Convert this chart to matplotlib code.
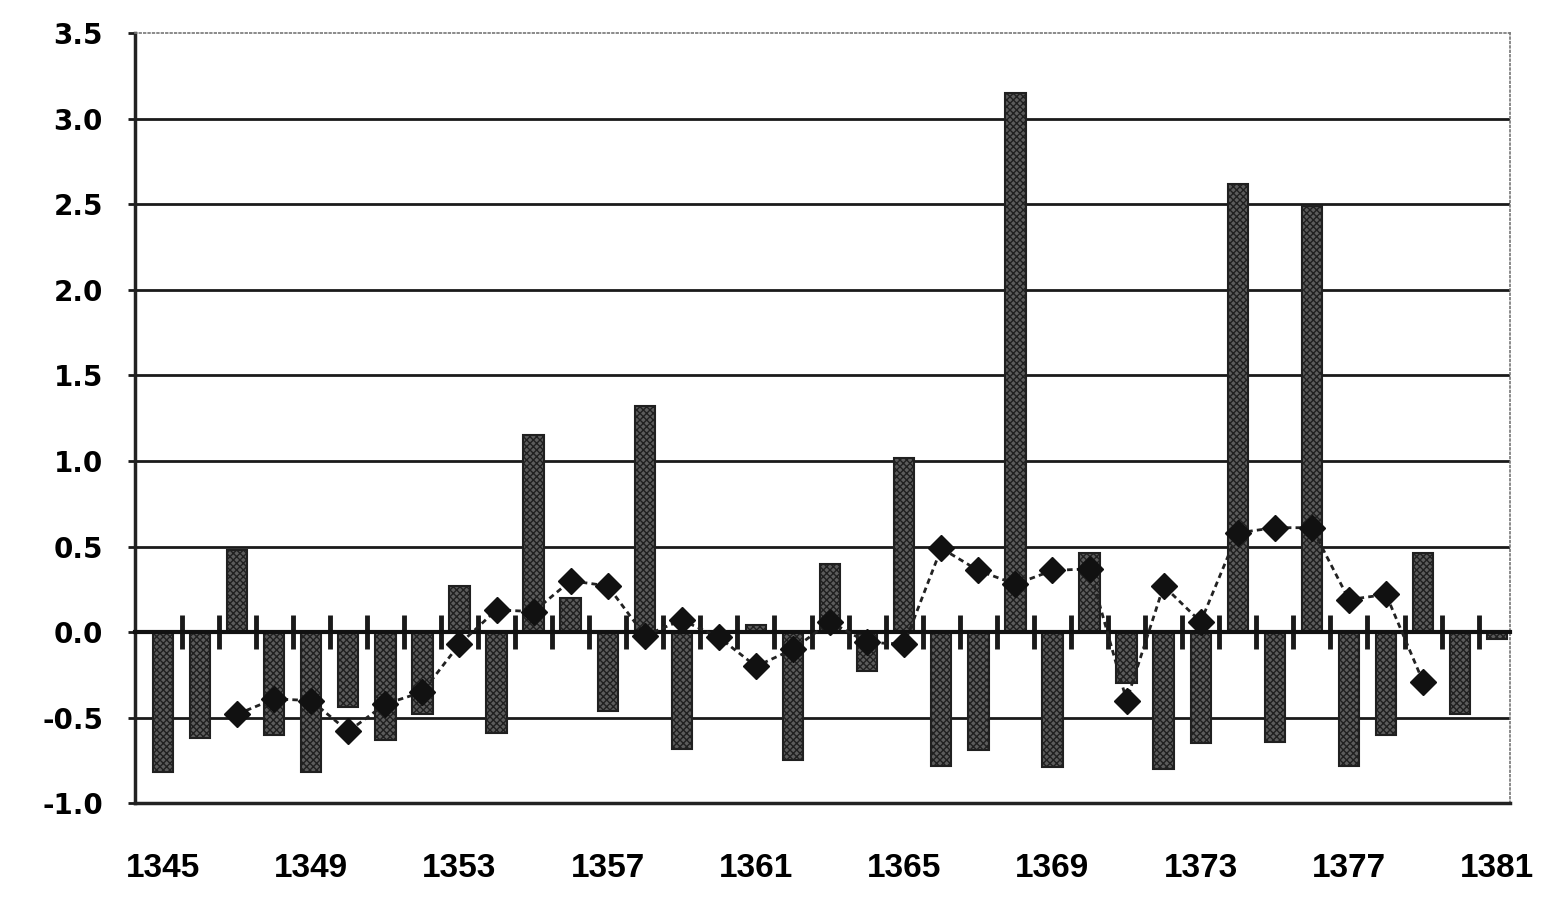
import numpy as np
import matplotlib.pyplot as plt

years = list(range(1345, 1382))

# yearly values (bars)
bars = [-0.82, -0.62, 0.48, -0.60, -0.82, -0.44, -0.63, -0.48, 0.27, -0.59,
        1.15, 0.20, -0.46, 1.32, -0.68, -0.02, 0.04, -0.75, 0.40, -0.23,
        1.02, -0.78, -0.69, 3.15, -0.79, 0.46, -0.30, -0.80, -0.65, 2.62,
        -0.64, 2.49, -0.78, -0.60, 0.46, -0.48, -0.04]

# smoothed line (diamonds), 1347 .. 1379
line_years = list(range(1347, 1380))
line_vals = [-0.48, -0.39, -0.40, -0.58, -0.42, -0.35, -0.07, 0.13, 0.12, 0.30,
             0.27, -0.02, 0.07, -0.03, -0.20, -0.10, 0.06, -0.06, -0.07, 0.49,
             0.36, 0.28, 0.36, 0.37, -0.40, 0.27, 0.06, 0.58, 0.61, 0.61,
             0.19, 0.22, -0.29]

yticks = [-1.0, -0.5, 0.0, 0.5, 1.0, 1.5, 2.0, 2.5, 3.0, 3.5]
xlabel_years = [1345, 1349, 1353, 1357, 1361, 1365, 1369, 1373, 1377, 1381]

x = np.arange(len(years))
lx = np.array([years.index(y) for y in line_years])

fig = plt.figure(figsize=(15.41, 9.17), dpi=100)
ax = fig.add_axes([0.0876, 0.124, 0.8924, 0.84])

# grid lines
for g in yticks[1:-1]:
    if g == 0.0:
        continue
    ax.axhline(g, color='#1a1a1a', lw=2.0, zorder=1)

ax.bar(x, bars, width=0.55, facecolor='#5c5c5c', edgecolor='#202020',
       hatch='xxxxx', linewidth=1.5, zorder=2)

ax.plot(lx, line_vals, color='#222222', lw=2.0, ls=(0, (2, 1.5)),
        marker='D', markersize=13, markerfacecolor='#111111',
        markeredgecolor='#111111', zorder=4)

ax.set_xlim(-0.755, 36.35)
ax.set_ylim(-1.0, 3.5)

# zero axis with category boundary ticks
zax = ax.secondary_xaxis(1.0 / 4.5)
zax.set_xticks(np.arange(len(years) - 1) + 0.5)
zax.tick_params(direction='inout', length=24, width=3.5, color='#1a1a1a',
                labelbottom=False)
zax.spines['bottom'].set_linewidth(3.0)
zax.spines['bottom'].set_color('#111111')
zax.set_zorder(3)

ax.set_xticks([years.index(y) for y in xlabel_years])
ax.set_xticklabels([str(y) for y in xlabel_years],
                   family=['Liberation Sans', 'DejaVu Sans'],
                   fontweight='bold', fontsize=24)
ax.tick_params(axis='x', length=0, pad=36)

ax.set_yticks(yticks)
ax.set_yticklabels(['%.1f' % v for v in yticks], fontweight='bold',
                   fontsize=20)
ax.tick_params(axis='y', direction='out', length=5, width=2, pad=18,
               color='#1a1a1a')

ax.spines['left'].set_linewidth(2.5)
ax.spines['left'].set_color('#222222')
ax.spines['bottom'].set_linewidth(2.5)
ax.spines['bottom'].set_color('#222222')
for s in ['top', 'right']:
    ax.spines[s].set_linewidth(1.2)
    ax.spines[s].set_color('#777777')
    ax.spines[s].set_linestyle(':')

plt.savefig('out.png', dpi=100)
